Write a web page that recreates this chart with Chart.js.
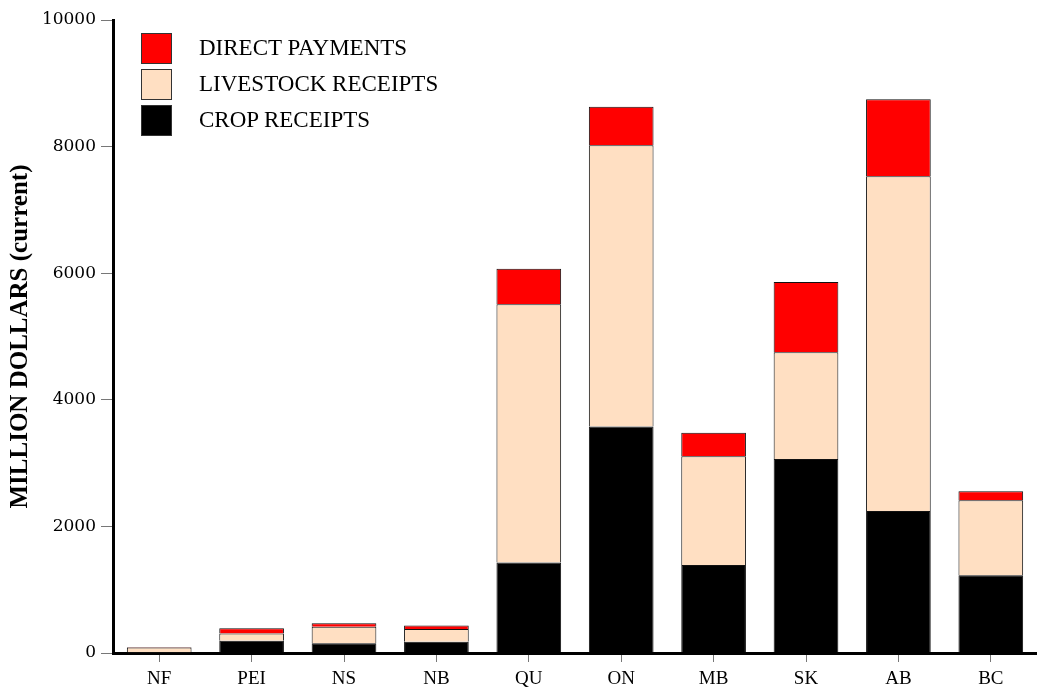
<!DOCTYPE html>
<html>
<head>
<meta charset="utf-8">
<script src="https://cdn.jsdelivr.net/npm/chart.js@4"></script>
<style>
  html, body { margin: 0; padding: 0; background: #fff; }
  #wrap { position: relative; width: 1037px; height: 688px; }
  #legenda { position: absolute; left: 141px; top: 30px; font-family: 'Liberation Serif', serif; font-size: 23px; color: #000; }
  .item { display: flex; align-items: center; height: 36px; }
  .caixa { width: 31px; height: 31px; border: 1px solid #333; margin-right: 27px; box-sizing: border-box; }
</style>
</head>
<body>
<div id="wrap">
  <canvas id="grafico" width="1037" height="688"></canvas>
  <div id="legenda">
    <div class="item"><span class="caixa" style="background:#ff0000"></span>DIRECT PAYMENTS</div>
    <div class="item"><span class="caixa" style="background:#ffdfc2"></span>LIVESTOCK RECEIPTS</div>
    <div class="item"><span class="caixa" style="background:#000000"></span>CROP RECEIPTS</div>
  </div>
</div>
<script>
// Receitas agrícolas por província (milhões de dólares)
const provincias = ['NF', 'PEI', 'NS', 'NB', 'QU', 'ON', 'MB', 'SK', 'AB', 'BC'];
const cropReceipts = [10, 195, 153, 178, 1430, 3580, 1390, 3065, 2245, 1230];
const livestockReceipts = [75, 115, 263, 200, 4080, 4440, 1720, 1685, 5285, 1185];
const directPayments = [10, 80, 54, 58, 560, 610, 370, 1110, 1220, 140];
const yTicks = [0, 2000, 4000, 6000, 8000, 10000];

const fonteSerif = 'Liberation Serif';

new Chart(document.getElementById('grafico').getContext('2d'), {
    type: 'bar',
    data: {
        labels: provincias,
        datasets: [
            { label: 'CROP RECEIPTS', data: cropReceipts, backgroundColor: '#000000', borderColor: '#111', borderWidth: 1 },
            { label: 'LIVESTOCK RECEIPTS', data: livestockReceipts, backgroundColor: '#ffdfc2', borderColor: '#111', borderWidth: 1 },
            { label: 'DIRECT PAYMENTS', data: directPayments, backgroundColor: '#ff0000', borderColor: '#111', borderWidth: 1 }
        ]
    },
    options: {
        responsive: false,
        animation: false,
        layout: { padding: { top: 20, right: 0, left: 0, bottom: 0 } },
        plugins: { legend: { display: false }, tooltip: { enabled: false } },
        datasets: { bar: { barPercentage: 0.7, categoryPercentage: 1 } },
        scales: {
            x: {
                stacked: true,
                grid: { offset: false, drawOnChartArea: false, tickLength: 9, tickColor: '#777', lineWidth: 1 },
                border: { color: '#000', width: 3 },
                ticks: { color: '#000', font: { family: fonteSerif, size: 19 }, padding: 6 },
                afterFit: function(scale) { scale.height = 35; }
            },
            y: {
                stacked: true,
                min: 0,
                max: 10000,
                afterBuildTicks: function(scale) { scale.ticks = yTicks.map(v => ({ value: v })); },
                grid: { drawOnChartArea: false, tickLength: 12, tickColor: '#777', lineWidth: 1 },
                border: { color: '#000', width: 3 },
                ticks: {
                    color: '#000',
                    font: { family: 'DejaVu Serif', size: 17 },
                    padding: 5,
                    callback: function(valor) { return String(valor); }
                },
                title: {
                    display: true,
                    text: 'MILLION DOLLARS (current)',
                    color: '#000',
                    font: { family: fonteSerif, size: 25, weight: 'bold' },
                    padding: { top: 6, bottom: 0 }
                },
                afterFit: function(scale) { scale.width = 113; }
            }
        }
    }
});
</script>
</body>
</html>
